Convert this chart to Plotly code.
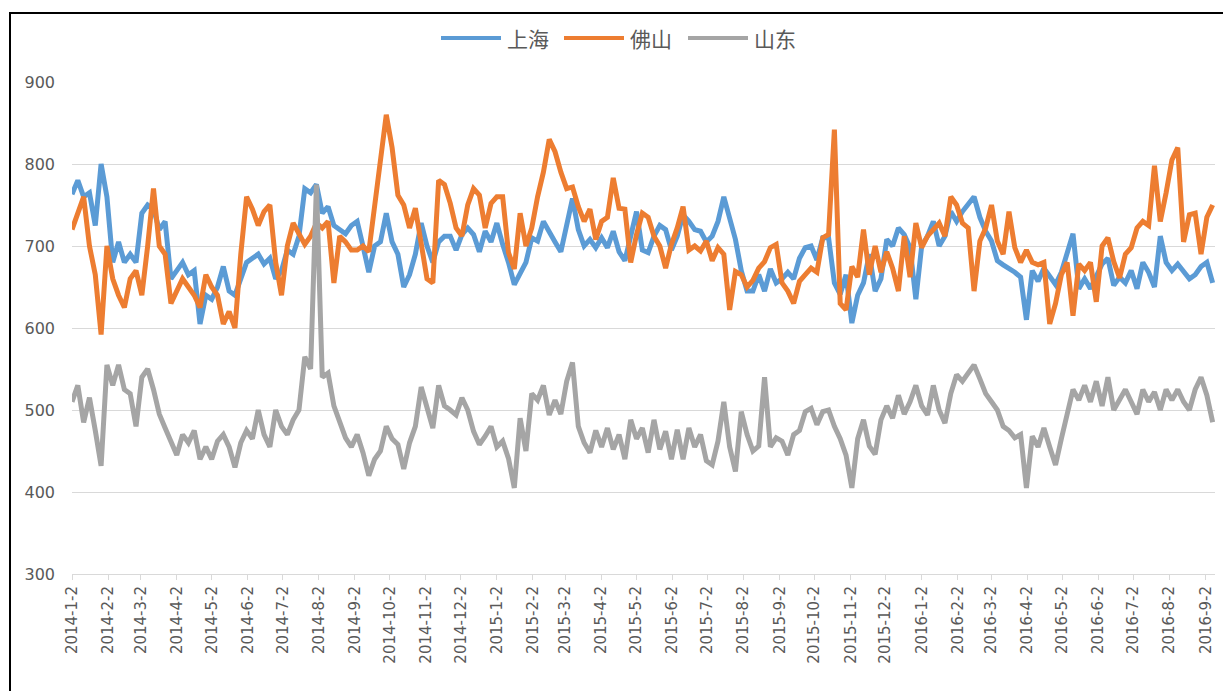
import pandas as pd
import plotly.graph_objects as go

# ---- data, one value every 5 days from 2014-01-02 ----
start_date = "2014-01-02"
step = "5D"

shanghai = [
    763, 780, 760, 765, 725, 800, 760, 680, 705, 680,
    690, 680, 740, 750, 745, 720, 730, 660, 670, 680,
    665, 670, 605, 640, 635, 650, 675, 645, 640, 660,
    680, 685, 690,
    678, 685, 660, 670, 695, 690, 712, 770, 765, 775,
    740, 748, 725, 720, 715, 725, 730, 700, 668, 700,
    705, 740, 705, 690, 650, 665, 690, 728, 700, 680,
    705, 712,
    712, 695, 714, 722, 714, 693, 718, 705, 728, 702,
    680, 653, 668, 680, 710, 706, 730, 716, 705, 693,
    725, 758, 720, 700, 708, 698, 710, 698, 718, 693,
    682, 714, 742,
    695, 692, 712, 725, 720, 695, 712, 738, 730, 720,
    718, 705, 712, 730, 760, 735, 708, 670, 645, 645,
    665, 645, 672, 655, 660, 668, 660, 685, 698, 700,
    683, 710, 710,
    655, 641, 665, 606, 640, 655, 690, 645, 660, 708,
    700, 722, 714, 698, 635, 700, 712, 730, 700, 712,
    742, 730, 742, 750, 760, 735, 718, 706, 682, 677,
    673, 668,
    662, 610, 670, 657, 673, 662, 653, 668, 690, 715,
    648, 660, 648, 662, 678, 685, 652, 662, 655, 670,
    648, 680, 668, 650, 712, 680, 670, 678, 668, 660,
    665, 675, 680, 655,
]

foshan = [
    720, 740, 760, 700, 665, 592, 700, 660, 640, 625,
    660, 670, 640, 700, 770, 700, 690, 630, 645, 660,
    650, 640, 625, 665, 650, 640, 605, 620, 600, 690,
    760, 745, 725,
    742, 750, 680, 640, 700, 728, 715, 702, 712, 728,
    722, 730, 655, 712, 705, 695, 695, 700, 693, 745,
    800, 860, 820, 762, 750, 722, 746, 700, 660, 655,
    780, 775,
    752, 722, 712, 750, 770, 762, 722, 752, 760, 760,
    692, 672, 740, 700, 722, 760, 790, 830, 815, 790,
    770, 772, 748, 730, 745, 708, 730, 735, 783, 746,
    745, 680, 714,
    740, 735, 712, 700, 673, 702, 722, 748, 695, 700,
    694, 706, 682, 698, 690, 622, 669, 665, 650, 658,
    673, 681, 698, 702, 655, 645, 630, 657, 665, 673,
    668, 710, 714,
    842, 630, 622, 675, 662, 720, 665, 700, 668, 693,
    673, 645, 712, 662, 728, 698, 712, 720, 728, 712,
    760, 750, 728, 722, 645, 706, 722, 750, 706, 690,
    742, 698,
    680, 695, 680, 677, 680, 605, 630, 665, 680, 615,
    678, 670, 680, 632, 700, 710, 681, 661, 690, 698,
    722, 730, 725, 798, 730, 765, 805, 820, 705, 738,
    740, 690, 735, 750,
]

shandong = [
    510, 530, 485, 515, 475, 432, 555, 530, 555, 525,
    520, 480, 540, 550, 525, 495, 478, 462, 445, 470,
    460, 475, 440, 455, 440, 462, 470, 455, 430, 460,
    475, 465, 500,
    470, 455, 500, 480, 470, 488, 500, 565, 550, 775,
    540, 545, 505, 485, 466, 455, 470, 448, 420, 440,
    450, 480, 465, 458, 428, 460, 480, 528, 505, 478,
    530, 505,
    500, 494, 515, 500, 474, 458, 468, 480, 455, 462,
    441, 405, 490, 450, 520, 512, 530, 494, 512, 495,
    535, 558, 480, 460, 448, 475, 455, 478, 452, 470,
    440, 488, 465,
    478, 448, 488, 452, 474, 440, 476, 440, 478, 455,
    470, 438, 433, 462, 510, 455, 425, 498, 470, 450,
    456, 540, 455, 466, 462, 445, 470, 475, 498, 502,
    482, 498, 500,
    480, 465, 445, 405, 465, 488, 456, 446, 488, 505,
    490, 518, 495, 510, 530, 505, 494, 530, 500, 484,
    520, 543, 535, 545, 555, 538, 520, 510, 500, 480,
    475, 466,
    470, 405, 468, 455, 478, 455, 433, 465, 495, 525,
    512, 530, 510, 535, 505, 540, 500, 512, 525, 510,
    495, 525, 510, 522, 500, 525, 512, 525, 510, 500,
    525, 540, 518, 485,
]

series_names = ["上海", "佛山", "山东"]
series_values = [shanghai, foshan, shandong]
series_colors = ["#5B9BD5", "#ED7D31", "#A5A5A5"]

# month tick labels 2014-1-2 ... 2016-9-2
tick_months = [(y, m) for y in (2014, 2015, 2016) for m in range(1, 13)
               if not (y == 2016 and m > 9)]
tick_vals = [f"{y}-{m:02d}-02" for y, m in tick_months]
tick_text = [f"{y}-{m}-2" for y, m in tick_months]

# ---- layout geometry (pixels); the page body adds an 8px offset ----
OFF = 8
W, H = 1231 - OFF, 691 - OFF
L, R, T, B = 64, 16, 74, 117
PW, PH = W - L - R, H - T - B


def px(x):  # page x -> paper
    return (x - OFF - L) / PW


def py(y):  # page y -> paper
    return (H - B - (y - OFF)) / PH


fig = go.Figure()
for name, vals, color in zip(series_names, series_values, series_colors):
    dates = pd.date_range(start_date, periods=len(vals), freq=step)
    fig.add_trace(go.Scatter(
        x=dates, y=vals, name=name, mode="lines",
        line=dict(color=color, width=5), showlegend=False,
    ))

tick_font = dict(family="DejaVu Sans", size=15, color="#595959")

shapes = [
    dict(type="rect", xref="paper", yref="paper",
         x0=px(10), x1=px(1245), y0=py(705), y1=py(13),
         line=dict(color="#000000", width=2), fillcolor="rgba(0,0,0,0)"),
]
annotations = []
legend_line_x = [441, 564, 688]
for name, color, lx in zip(series_names, series_colors, legend_line_x):
    shapes.append(dict(type="line", xref="paper", yref="paper",
                       x0=px(lx), x1=px(lx + 60), y0=py(38), y1=py(38),
                       line=dict(color=color, width=4)))
    annotations.append(dict(xref="paper", yref="paper", x=px(lx + 64), y=py(38),
                            xanchor="left", yanchor="middle", showarrow=False,
                            text=name,
                            font=dict(family="Noto Sans CJK SC", size=21, color="#595959")))

fig.update_layout(
    width=W, height=H,
    margin=dict(l=L, r=R, t=T, b=B, autoexpand=False),
    paper_bgcolor="white", plot_bgcolor="white",
    showlegend=False,
    xaxis=dict(
        type="date",
        range=["2014-01-02", "2016-09-10"],
        tickmode="array", tickvals=tick_vals, ticktext=tick_text,
        tickangle=-90, tickfont=tick_font,
        showgrid=False, zeroline=False,
        showline=True, linecolor="#d9d9d9", linewidth=1,
        ticks="outside", ticklen=5, tickcolor="#d9d9d9",
        automargin=False,
    ),
    yaxis=dict(
        range=[300, 900], dtick=100, tick0=300,
        tickfont=dict(family="DejaVu Sans", size=16, color="#595959"),
        showgrid=True, gridcolor="#d9d9d9", gridwidth=1,
        zeroline=False, showline=False,
        ticks="", ticklabelstandoff=16,
        automargin=False,
    ),
    shapes=shapes,
    annotations=annotations,
)

fig.write_html("out.html")
